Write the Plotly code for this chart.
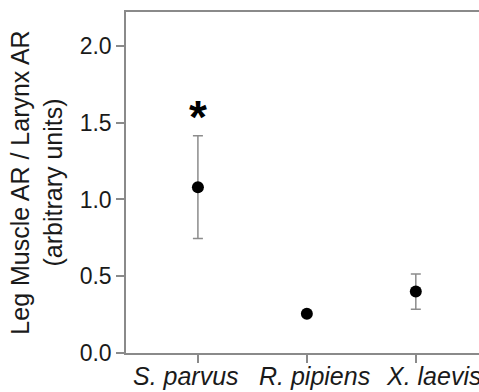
import plotly.graph_objects as go

species = ["S. parvus", "R. pipiens", "X. laevis"]
ratio_mean = [1.08, 0.255, 0.40]
ratio_err = [0.335, 0.015, 0.115]
y_ticks = [0.0, 0.5, 1.0, 1.5, 2.0]
y_tick_labels = ["0.0", "0.5", "1.0", "1.5", "2.0"]
sig_species = "S. parvus"
sig_y = 1.535

FONT = "Arial, Liberation Sans, Helvetica, sans-serif"
AXIS_GRAY = "#8a8a8a"
LABEL_XSHIFT = [-12, 8, 18]  # label offsets from their ticks, as in the original figure

fig = go.Figure()
fig.add_trace(go.Scatter(
    x=species, y=ratio_mean, mode="markers",
    marker=dict(color="black", size=12),
    error_y=dict(type="data", array=ratio_err, visible=True,
                 color="#8c8c8c", thickness=1.5, width=5),
    showlegend=False, cliponaxis=False,
))

fig.add_annotation(x=sig_species, y=sig_y, text="<b>*</b>", showarrow=False,
                   xref="x", yref="y", yanchor="middle",
                   font=dict(family=FONT, size=46, color="black"))

for name, dx in zip(species, LABEL_XSHIFT):
    fig.add_annotation(x=name, y=0, xref="x", yref="y", text=name,
                       showarrow=False, yanchor="top", xanchor="center",
                       xshift=dx, yshift=-7,
                       font=dict(family=FONT, size=25, style="italic", color="#1a1a1a"))

fig.update_layout(
    width=479, height=392,
    margin=dict(l=126, r=0, t=12, b=39, autoexpand=False),
    paper_bgcolor="white", plot_bgcolor="white",
    font=dict(family=FONT, size=23, color="#1a1a1a"),
)
fig.update_xaxes(
    type="category", range=[-0.66, 2.58], automargin=False,
    showline=True, linecolor=AXIS_GRAY, linewidth=1.5, mirror=True,
    ticks="outside", ticklen=8, tickcolor=AXIS_GRAY, tickwidth=1.5,
    showgrid=False, zeroline=False, showticklabels=False,
)
fig.update_yaxes(
    range=[0, 2.221], tickvals=y_ticks, ticktext=y_tick_labels, automargin=False,
    showline=True, linecolor=AXIS_GRAY, linewidth=1.5,
    ticks="outside", ticklen=8, tickcolor=AXIS_GRAY, tickwidth=1.5,
    showgrid=False, zeroline=False,
    tickfont=dict(family=FONT, size=23, color="#1a1a1a"),
    title=dict(text="Leg Muscle AR / Larynx AR<br>(arbitrary units)",
               font=dict(family=FONT, size=25, color="#1a1a1a"), standoff=10),
)

fig.write_html("out.html",
               config={"displayModeBar": False},
               post_script="document.body.style.margin='0';document.body.style.overflow='hidden';")
